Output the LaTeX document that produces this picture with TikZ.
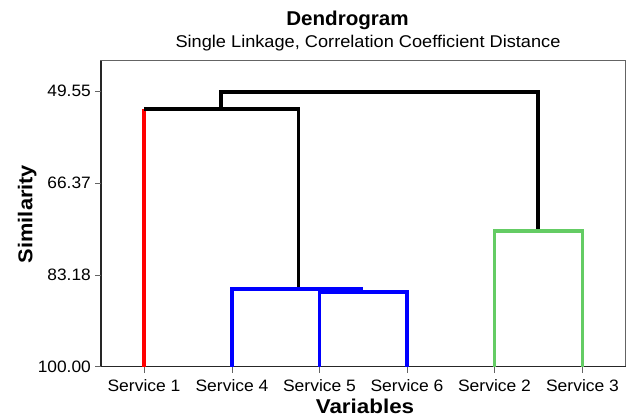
\documentclass[tikz,border=0pt]{standalone}
\usepackage{graphicx}
\usepackage{fontspec}
\setmainfont{Liberation Sans}
\definecolor{framegray}{RGB}{100,100,100}
\definecolor{dgreen}{RGB}{100,204,100}
\definecolor{dblue}{RGB}{0,0,255}
\definecolor{dred}{RGB}{255,0,0}
\newcommand\sxx[2]{\scalebox{#1}[1]{#2}}
\tikzset{
  link/.style={line width=3.2pt, line join=miter, line cap=butt},
  ticklab/.style={font=\fontsize{16.5}{18}\selectfont, inner sep=0pt, anchor=base east},
  leaflab/.style={font=\fontsize{16.5}{18}\selectfont, inner sep=0pt, anchor=base},
  boldlab/.style={font=\fontsize{20}{22}\selectfont\bfseries, inner sep=0pt, anchor=base},
  tickline/.style={draw=framegray, line width=1pt},
}
\begin{document}
\begin{tikzpicture}[x=1pt,y=-1pt]
\useasboundingbox (0,0) rectangle (628,417);
% frame
\draw[framegray, line width=1.2pt] (101,60.7) rectangle (625.7,366.7);
\draw[black!85, line width=1.4pt] (101,60.7) -- (101,366.7) -- (625.7,366.7);
% y ticks
\foreach \yy/\lab/\nm in {91.7/49.55/ta, 183.3/66.37/tb, 275.0/83.18/tc, 366.7/100.00/td}{
  \coordinate (\nm) at (101,\yy);
  \coordinate (\nm l) at (95,\yy);
  \draw[tickline] (\nm) -- (\nm l);
  \node[ticklab] (\nm t) at (91,\yy+5.3) {\sxx{1.05}{\lab}};
}
% leaves
\foreach \xx/\lab/\nm in {144/1/s1, 232/4/s4, 319.5/5/s5, 407/6/s6, 494.5/2/s2, 582.5/3/s3}{
  \coordinate (\nm) at (\xx,366.7);
  \coordinate (\nm b) at (\xx,372.5);
  \draw[tickline] (\nm) -- (\nm b);
  \node[leaflab] (\nm t) at (\xx,391.7) {\sxx{1.06}{Service \lab}};
}
% merge points
\coordinate (m56l) at (319.5,292);
\coordinate (m56r) at (407,292);
\coordinate (m456l) at (232,289);
\coordinate (m456r) at (363,289);
\coordinate (m456) at (298.5,289);
\coordinate (m1l) at (144,109);
\coordinate (m1r) at (298.5,109);
\coordinate (m1) at (221,109);
\coordinate (m23l) at (494.5,231);
\coordinate (m23r) at (582.5,231);
\coordinate (m23) at (538,231);
\coordinate (topl) at (221,92);
\coordinate (topr) at (538,92);
% links
\draw[link, dred] (s1) -- (m1l);
\draw[link, black] (m1l) -- (m1r) -- (m456);
\draw[link, black] (m1) -- (topl) -- (topr) -- (m23);
\draw[link, dblue] (s4) -- (m456l) -- (m456r);
\draw[link, dblue] (s5) -- (m56l) -- (m56r) -- (s6);
\draw[link, dgreen] (s2) -- (m23l) -- (m23r) -- (s3);
% titles
\node[boldlab] (title) at (347.5,26) {\sxx{1.03}{Dendrogram}};
\node[leaflab, font=\fontsize{17}{19}\selectfont] (subtitle) at (368,47.3) {\sxx{1.07}{Single Linkage, Correlation Coefficient Distance}};
\node[boldlab] (xlab) at (365,413.3) {\sxx{1.12}{Variables}};
\node[boldlab, rotate=90] (ylab) at (32.3,214) {\sxx{1.09}{Similarity}};
\end{tikzpicture}
\end{document}
